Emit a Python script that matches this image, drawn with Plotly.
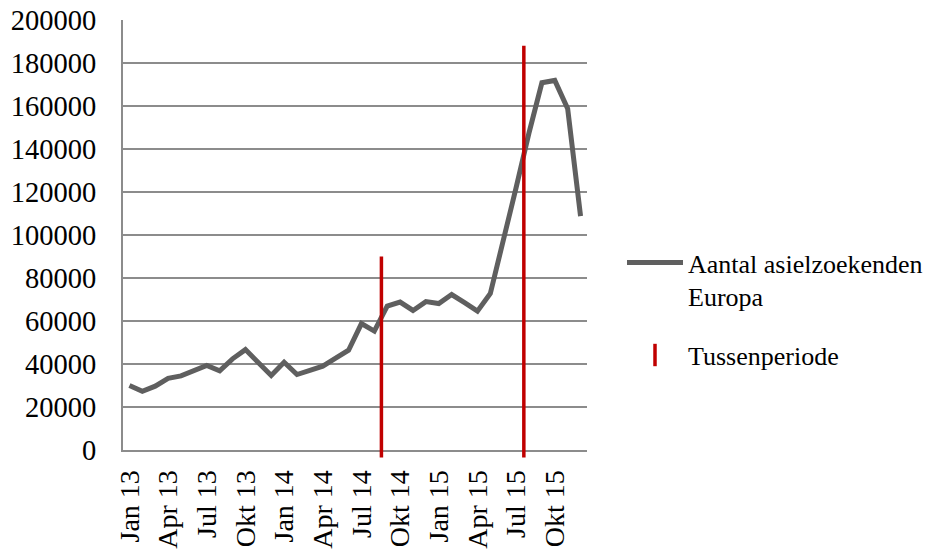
import plotly.graph_objects as go

# ---- data ----
months = [
    "Jan 13", "Feb 13", "Mrt 13", "Apr 13", "Mei 13", "Jun 13",
    "Jul 13", "Aug 13", "Sep 13", "Okt 13", "Nov 13", "Dec 13",
    "Jan 14", "Feb 14", "Mrt 14", "Apr 14", "Mei 14", "Jun 14",
    "Jul 14", "Aug 14", "Sep 14", "Okt 14", "Nov 14", "Dec 14",
    "Jan 15", "Feb 15", "Mrt 15", "Apr 15", "Mei 15", "Jun 15",
    "Jul 15", "Aug 15", "Sep 15", "Okt 15", "Nov 15", "Dec 15",
]
asielzoekenden = [
    30000, 27300, 29700, 33300, 34500, 37000,
    39300, 36800, 42400, 46700, 40500, 34700,
    40800, 35100, 37000, 39000, 42700, 46400,
    58800, 55300, 66900, 68800, 64900, 69000,
    68100, 72300, 68500, 64600, 72800, 96700,
    122000, 147500, 170800, 171900, 158700, 108800,
]
tick_labels = ["Jan 13", "Apr 13", "Jul 13", "Okt 13", "Jan 14", "Apr 14",
               "Jul 14", "Okt 14", "Jan 15", "Apr 15", "Jul 15", "Okt 15"]
# vertical "Tussenperiode" markers (position in month index units, top value)
tussen_pos = [19.55, 30.6]
tussen_top = [90000, 188000]
tussen_bottom = -3500

y_ticks = list(range(0, 200001, 20000))
y_tick_text = [str(v) for v in y_ticks]

x_idx = list(range(len(months)))
tick_pos = [months.index(t) for t in tick_labels]

FONT = "Liberation Serif, Times New Roman, serif"
GRAY_LINE = "#5f5f5f"
RED = "#c00000"
GRID = "#8c8c8c"

fig = go.Figure()

fig.add_trace(go.Scatter(
    x=x_idx, y=asielzoekenden, mode="lines",
    name="Aantal asielzoekenden<br>Europa", legendgroup="a",
    line=dict(color=GRAY_LINE, width=5),
    xaxis="x", yaxis="y",
))

# red vertical lines drawn from the data
rx, ry = [], []
for p, t in zip(tussen_pos, tussen_top):
    rx += [p, p, None]
    ry += [tussen_bottom, t, None]
fig.add_trace(go.Scatter(
    x=rx, y=ry, mode="lines", showlegend=False, legendgroup="b",
    line=dict(color=RED, width=3.5),
    xaxis="x", yaxis="y2", hoverinfo="skip",
))
# legend entry for the red lines
fig.add_trace(go.Scatter(
    x=[None], y=[None], mode="markers", name="Tussenperiode", legendgroup="b",
    marker=dict(symbol="line-ns", size=36, color=RED,
                line=dict(color=RED, width=3.5)),
    xaxis="x", yaxis="y2",
))

W, H = 928, 554
mt, mb = 20, 94
plot_h = H - mt - mb          # 440
ext = 10                      # px of extension below zero for the red lines
main_h = plot_h - ext         # 430 px for 0..200000
y2_low = -200000 * ext / main_h

fig.update_layout(
    width=W, height=H,
    margin=dict(l=123, r=341, t=mt, b=mb, pad=0, autoexpand=False),
    paper_bgcolor="white", plot_bgcolor="rgba(0,0,0,0)",
    font=dict(family=FONT, color="black", size=28),
    xaxis=dict(
        range=[-0.5, len(months) - 0.5],
        tickvals=tick_pos, ticktext=tick_labels,
        tickangle=-90, showgrid=False, zeroline=False,
        showline=True, linecolor=GRID, linewidth=2,
        ticks="", ticklabelstandoff=7,
        tickfont=dict(family=FONT, size=28, color="black"),
        anchor="y", fixedrange=True, automargin=False,
    ),
    yaxis=dict(
        domain=[ext / plot_h, 1],
        range=[0, 200000], tickvals=y_ticks, ticktext=y_tick_text,
        showgrid=True, gridcolor=GRID, gridwidth=2,
        zeroline=False, showline=True, linecolor=GRID, linewidth=2,
        ticks="", ticklabelstandoff=19,
        tickfont=dict(family=FONT, size=28.5, color="black"),
        anchor="x", fixedrange=True, automargin=False,
    ),
    yaxis2=dict(
        domain=[0, 1], range=[y2_low, 200000],
        visible=False, anchor="x", fixedrange=True,
    ),
    showlegend=True,
    legend=dict(
        x=(622 - 123) / 464, xanchor="left",
        y=(H - mb - 239) / plot_h, yanchor="top",
        font=dict(family=FONT, size=26, color="black"),
        valign="top", itemwidth=56, tracegroupgap=22,
        bgcolor="rgba(0,0,0,0)", borderwidth=0,
    ),
)

fig.write_html("out.html")
